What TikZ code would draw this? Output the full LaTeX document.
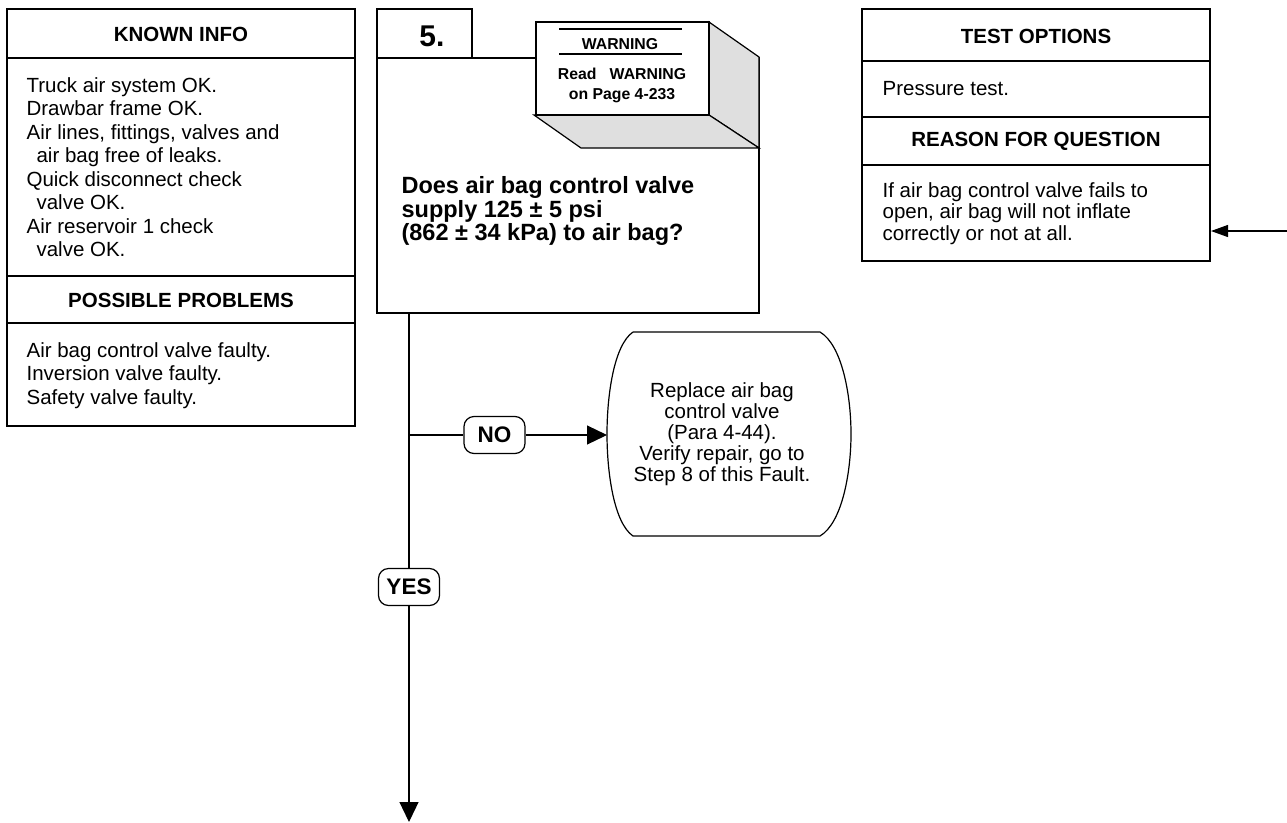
\documentclass[tikz,border=0pt]{standalone}
\usepackage{fontspec}
\setmainfont{Liberation Sans}
\usetikzlibrary{arrows.meta,positioning}

\begin{document}
\begin{tikzpicture}[x=1pt,y=-1pt,line width=1.2pt,
  head/.style={font=\fontsize{20.5}{23.5}\selectfont\bfseries,inner sep=0pt},
  txt/.style={font=\fontsize{20.5}{23.5}\selectfont,align=left,anchor=north west,inner sep=0pt},
  pill/.style={draw,fill=white,rounded corners=10pt,minimum width=61pt,minimum height=37pt,inner sep=0pt,font=\fontsize{22.5}{24}\selectfont\bfseries},
  flow/.style={-{Triangle[length=20pt,width=19pt]}}]
  \useasboundingbox (0,0) rectangle (1287,822);

  % known info panel
  \path[draw] (7,9) rectangle (355,426);
  \path[draw] (7,58) -- (355,58) (7,276) -- (355,276) (7,323) -- (355,323);
  \node[head] (known) at (181,34) {KNOWN INFO};
  \node[txt] (knowntxt) at (26,77) {Truck air system OK.\\Drawbar frame OK.\\Air lines, fittings, valves and\\\hspace*{10pt}air bag free of leaks.\\Quick disconnect check\\\hspace*{10pt}valve OK.\\Air reservoir 1 check\\\hspace*{10pt}valve OK.};
  \node[head] (problems) at (181,300) {POSSIBLE PROBLEMS};
  \node[txt] (problemstxt) at (26,342) {Air bag control valve faulty.\\Inversion valve faulty.\\Safety valve faulty.};

  % test options panel
  \path[draw] (862,9) rectangle (1210,261);
  \path[draw] (862,61) -- (1210,61) (862,117) -- (1210,117) (862,165) -- (1210,165);
  \node[head] (options) at (1036,36) {TEST OPTIONS};
  \node[txt] (optionstxt) at (882,81) {Pressure test.};
  \node[head] (reason) at (1036,141.5) {REASON FOR QUESTION};
  \node[txt,font=\fontsize{20.5}{21.5}\selectfont] (reasontxt) at (882,182) {If air bag control valve fails to\\open, air bag will not inflate\\correctly or not at all.};
  \coordinate (reasonin) at (1211,231);
  \coordinate (fromright) at (1287,231);

  % step 5
  \path[draw] (377,9) rectangle (472,58);
  \path[draw] (377,58) rectangle (759,313);
  \node[font=\fontsize{30}{32}\selectfont\bfseries,inner sep=0pt] (stepno) at (432,36) {5.};
  \node[anchor=north west,inner sep=0pt,align=left,font=\fontsize{23.5}{23.5}\selectfont\bfseries] (question) at (401,176) {Does air bag control valve\\supply 125 ± 5 psi\\(862 ± 34 kPa) to air bag?};

  % warning block
  \path[draw,fill=gray!25] (709,22) -- (759,57) -- (759,148) -- (709,115) -- cycle;
  \path[draw,fill=gray!25] (534,115) -- (709,115) -- (759,148) -- (581,148) -- cycle;
  \path[draw,fill=white] (536,22) rectangle (709,115);
  \path[draw,line width=2pt] (559,29) -- (682,29) (559,54) -- (682,54);
  \node[font=\fontsize{15.8}{20}\selectfont\bfseries,inner sep=0pt] (warntitle) at (620,44) {WARNING};
  \node[anchor=north,inner sep=0pt,align=center,font=\fontsize{15.8}{20}\selectfont\bfseries] (warntxt) at (622,67) {Read\ \ \ WARNING\\on Page 4-233};

  % branches
  \coordinate (qbot) at (409,313);
  \coordinate (nofork) at (409,435);
  \coordinate (qend) at (409,822);
  \node[pill] (yes) at (409,587) {YES};
  \node[pill] (no) at (494.5,435) {NO};
  \path[draw] (633,332) -- (820,332) .. controls (842,345) and (851,395) .. (851,434)
    .. controls (851,473) and (842,523) .. (820,536) -- (633,536)
    .. controls (614,523) and (607,473) .. (607,434) .. controls (607,395) and (614,345) .. (633,332);
  \node[align=center,inner sep=0pt,font=\fontsize{20.5}{21}\selectfont] (replace) at (722,434)
        {Replace air bag\\control valve\\(Para 4-44).\\Verify repair, go to\\Step 8 of this Fault.};
  \coordinate (replacein) at (607,435);

  \draw (qbot) -- (yes);
  \draw[flow] (yes) -- (qend);
  \draw (nofork) -- (no);
  \draw[flow] (no) -- (replacein);
  \draw[-{Triangle[length=17pt,width=12pt]}] (fromright) -- (reasonin);
\end{tikzpicture}
\end{document}
